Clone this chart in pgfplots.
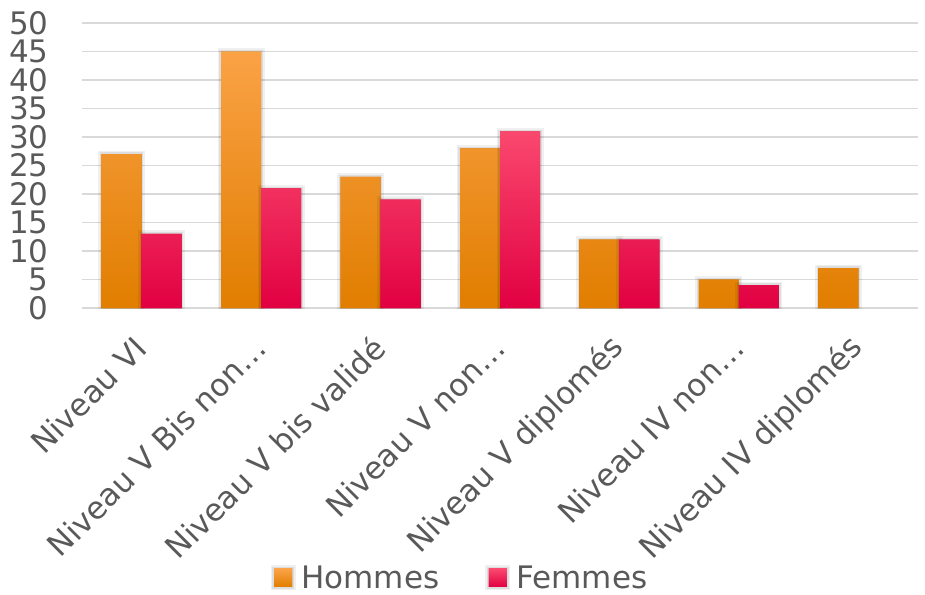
\documentclass[border=0pt]{standalone}
\usepackage{pgfplots}
\pgfplotsset{compat=1.18}
\usepackage{fontspec}
\setmainfont{DejaVu Sans}
\definecolor{txt}{RGB}{89,89,89}
\definecolor{gridc}{RGB}{217,217,217}
\definecolor{oTop}{RGB}{250,162,70}
\definecolor{oMid}{RGB}{255,140,0}
\definecolor{oBot}{RGB}{225,126,0}
\definecolor{pTop}{RGB}{250,72,110}
\definecolor{pMid}{RGB}{255,0,82}
\definecolor{pBot}{RGB}{225,0,66}
\begin{document}
\begin{tikzpicture}
\useasboundingbox (-82pt,-286pt) rectangle (843pt,308pt);
\begin{axis}[
  at={(0pt,0pt)}, anchor=south west,
  scale only axis, width=836pt, height=285pt,
  xmin=-0.5, xmax=6.5, ymin=0, ymax=50,
  ytick={0,5,...,50},
  xtick={0,...,6},
  xticklabels={Niveau VI, Niveau V Bis non…, Niveau V bis validé, Niveau V non…, Niveau V diplomés, Niveau IV non…, Niveau IV diplomés},
  ymajorgrids,
  major grid style={draw=gridc, line width=1.6pt},
  axis line style={draw=none},
  major tick length=0pt,
  /pgf/number format/assume math mode=true,
  ticklabel style={font=\fontsize{31}{31}\selectfont, text=txt},
  y tick label style={xshift=-30pt},
  x tick label style={rotate=45, anchor=east, inner sep=0pt, xshift=-25pt, yshift=-24pt},
  bar width=40pt,
  shd/.style={preaction={draw=black, draw opacity=0.06, line width=7pt},
              preaction={draw=black, draw opacity=0.08, line width=3.5pt}},
  legend style={at={(0.452,-0.947)}, anchor=center, draw=none, fill=none,
    legend columns=2, font=\fontsize{31}{31}\selectfont, text=txt,
    /tikz/every odd column/.append style={column sep=4pt},
    /tikz/every even column/.append style={column sep=44pt}},
  legend image code/.code={\fill[#1] (0pt,-9pt) rectangle (18pt,9pt);},
]
\addplot[ybar, bar shift=-20pt, shd, draw=none, top color=oTop, middle color=oMid, bottom color=oBot]
  coordinates {(0,27) (1,45) (2,23) (3,28) (4,12) (5,5) (6,7)};
\addplot[ybar, bar shift=20pt, shd, draw=none, top color=pTop, middle color=pMid, bottom color=pBot]
  coordinates {(0,13) (1,21) (2,19) (3,31) (4,12) (5,4)};
\legend{Hommes, Femmes}
\end{axis}
\end{tikzpicture}
\end{document}
